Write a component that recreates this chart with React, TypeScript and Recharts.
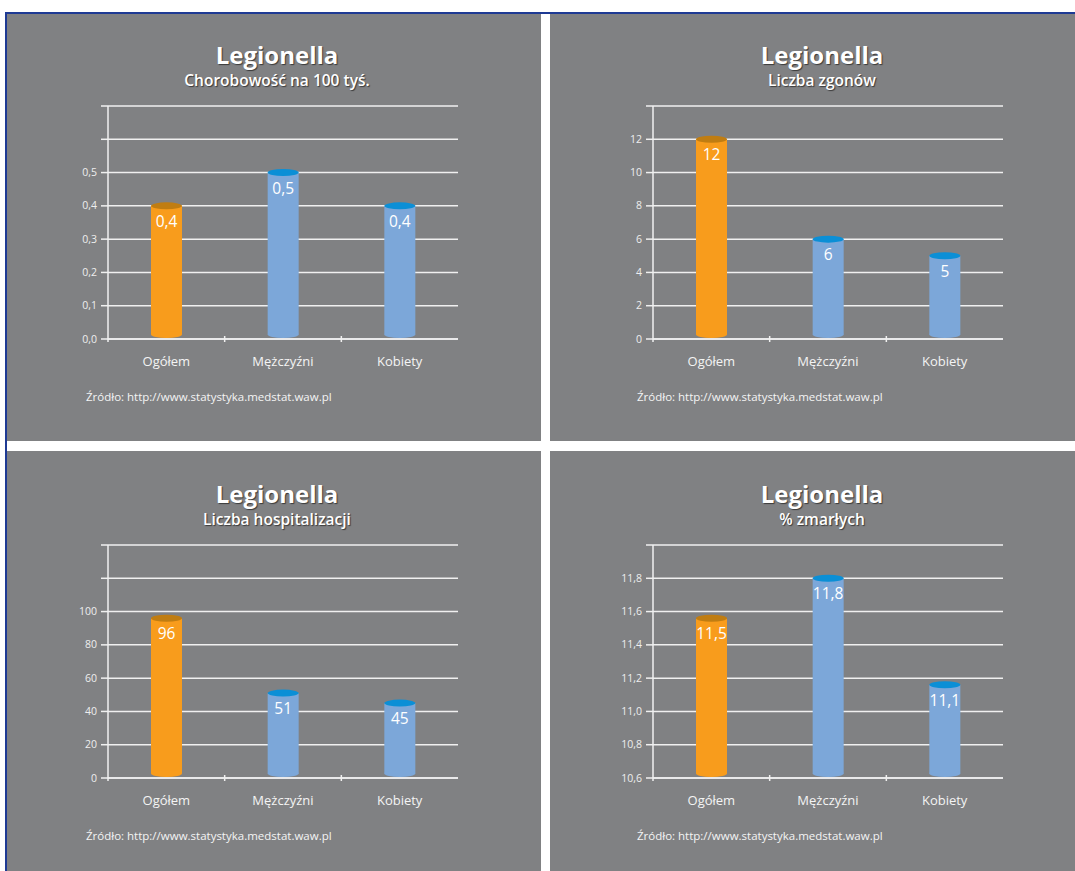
import { BarChart, Bar, XAxis, YAxis, CartesianGrid } from 'recharts';

// kategorie wspólne dla wszystkich wykresów
const categories = ['Ogółem', 'Mężczyźni', 'Kobiety'];

// Chorobowość na 100 tyś.
const incidenceValues = [0.4, 0.5, 0.4];
const incidenceLabels = ['0,4', '0,5', '0,4'];
const incidenceTicks = [0, 0.1, 0.2, 0.3, 0.4, 0.5, 0.6, 0.7];
const incidenceTickLabels = ['0,0', '0,1', '0,2', '0,3', '0,4', '0,5', '', ''];

// Liczba zgonów
const deathValues = [12, 6, 5];
const deathLabels = ['12', '6', '5'];
const deathTicks = [0, 2, 4, 6, 8, 10, 12, 14];
const deathTickLabels = ['0', '2', '4', '6', '8', '10', '12', ''];

// Liczba hospitalizacji
const hospitalValues = [96, 51, 45];
const hospitalLabels = ['96', '51', '45'];
const hospitalTicks = [0, 20, 40, 60, 80, 100, 120, 140];
const hospitalTickLabels = ['0', '20', '40', '60', '80', '100', '', ''];

// % zmarłych
const deadPctValues = [11.56, 11.8, 11.16];
const deadPctLabels = ['11,5', '11,8', '11,1'];
const deadPctTicks = [10.6, 10.8, 11.0, 11.2, 11.4, 11.6, 11.8, 12.0];
const deadPctTickLabels = ['10,6', '10,8', '11,0', '11,2', '11,4', '11,6', '11,8', ''];

const BG = '#808183';
const BORDER = '#1e3a94';
const LINE = '#f0f0f0';
const BAR_COLORS = ['#f89c1c', '#7ca7d9', '#7ca7d9'];
const CAP_COLORS = ['#c07d12', '#0b8fd6', '#0b8fd6'];
const FONT = '"Open Sans", "DejaVu Sans", sans-serif';

const CHART_W = 534;
const CHART_H = 380;
const PLOT_LEFT = 101;
const PLOT_W = 350;
const PLOT_TOP = 92;
const PLOT_BOTTOM = 325;
const Y_AXIS_W = 60;
const X_AXIS_H = 40;
const BAND = PLOT_W / categories.length;

function Cylinder(props: any) {
  const { x, y, width, height, index, payload } = props;
  const rx = width / 2;
  const ry = 3.5;
  const cx = x + rx;
  const bottom = y + height - 4.5;
  return (
    <g>
      <rect x={x} y={y} width={width} height={Math.max(0, bottom - y)} fill={BAR_COLORS[index]} />
      <ellipse cx={cx} cy={bottom} rx={rx} ry={ry} fill={BAR_COLORS[index]} />
      <ellipse cx={cx} cy={y} rx={rx} ry={ry} fill={CAP_COLORS[index]} />
      <text x={cx} y={y + 21} textAnchor="middle" fill="#ffffff" fontSize={15.5} fontFamily={FONT}>
        {payload.label}
      </text>
    </g>
  );
}

function XTick(props: any) {
  const { x, payload, index } = props;
  return (
    <g>
      <text x={x} y={PLOT_BOTTOM + 27} textAnchor="middle" fill="#f4f4f4" fontSize={13} fontFamily={FONT}>
        {payload.value}
      </text>
      {index < categories.length - 1 && (
        <line x1={x + BAND / 2} x2={x + BAND / 2} y1={PLOT_BOTTOM - 3} y2={PLOT_BOTTOM + 3} stroke={LINE} strokeWidth={1.5} />
      )}
      {index === 0 && (
        <line x1={x - BAND / 2} x2={x - BAND / 2} y1={PLOT_BOTTOM} y2={PLOT_BOTTOM + 3} stroke={LINE} strokeWidth={1.5} />
      )}
    </g>
  );
}

interface PanelProps {
  left: number;
  top: number;
  width: number;
  height: number;
  dx: number;
  dy: number;
  sourceX: number;
  subtitle: string;
  values: number[];
  labels: string[];
  ticks: number[];
  tickLabels: string[];
}

function Panel({ left, top, width, height, dx, dy, sourceX, subtitle, values, labels, ticks, tickLabels }: PanelProps) {
  const data = categories.map((name, i) => ({ name, value: values[i], label: labels[i] }));
  const shadow = '1px 1px 1px rgba(40,40,40,0.8)';
  return (
    <div style={{ position: 'absolute', left, top, width, height, background: BG, overflow: 'hidden', fontFamily: FONT }}>
      <div
        style={{
          position: 'absolute', left: dx, top: dy + 26, width: 540, textAlign: 'center',
          fontSize: 24, fontWeight: 700, lineHeight: '30px', color: '#fff', textShadow: shadow,
        }}
      >
        Legionella
      </div>
      <div
        style={{
          position: 'absolute', left: dx, top: dy + 56, width: 540, textAlign: 'center',
          fontSize: 15.5, fontWeight: 600, lineHeight: '20px', color: '#fff', textShadow: shadow,
        }}
      >
        {subtitle}
      </div>
      <div style={{ position: 'absolute', left: dx, top: dy }}>
        <BarChart
          width={CHART_W}
          height={CHART_H}
          data={data}
          margin={{
            top: PLOT_TOP,
            left: PLOT_LEFT - Y_AXIS_W,
            right: CHART_W - PLOT_LEFT - PLOT_W,
            bottom: CHART_H - PLOT_BOTTOM - X_AXIS_H,
          }}
        >
          <CartesianGrid horizontal vertical={false} stroke={LINE} strokeWidth={1.5} />
          <XAxis
            dataKey="name"
            height={X_AXIS_H}
            axisLine={{ stroke: LINE, strokeWidth: 1.5 }}
            tickLine={false}
            tick={<XTick />}
            interval={0}
          />
          <YAxis
            width={Y_AXIS_W}
            type="number"
            domain={[ticks[0], ticks[ticks.length - 1]]}
            ticks={ticks}
            interval={0}
            axisLine={{ stroke: LINE, strokeWidth: 1.5 }}
            tickLine={{ stroke: LINE, strokeWidth: 1.5 }}
            tickSize={7}
            tick={(p: any) => (
              <text x={p.x - 2} y={p.y + 3.5} textAnchor="end" fill="#eeeeee" fontSize={10.5} fontFamily={FONT}>
                {tickLabels[p.index]}
              </text>
            )}
          />
          <Bar dataKey="value" barSize={31} isAnimationActive={false} shape={<Cylinder />} />
        </BarChart>
      </div>
      <div
        style={{
          position: 'absolute', left: sourceX, top: dy + 375, fontSize: 11.5, lineHeight: '16px', color: '#f4f4f4', whiteSpace: 'nowrap',
        }}
      >
        Źródło: http://www.statystyka.medstat.waw.pl
      </div>
    </div>
  );
}

export default function App() {
  return (
    <div style={{ position: 'absolute', left: 0, top: 0, width: 1075, height: 871, background: '#fff', overflow: 'hidden' }}>
      <div style={{ position: 'absolute', left: 5, top: 12, width: 1070, height: 2, background: BORDER }} />
      <div style={{ position: 'absolute', left: 5, top: 12, width: 2, height: 859, background: BORDER }} />
      <Panel left={7} top={14} width={534} height={427} dx={0} dy={0} sourceX={79} subtitle="Chorobowość na 100 tyś."
        values={incidenceValues} labels={incidenceLabels} ticks={incidenceTicks} tickLabels={incidenceTickLabels} />
      <Panel left={550} top={14} width={525} height={427} dx={2} dy={0} sourceX={87} subtitle="Liczba zgonów"
        values={deathValues} labels={deathLabels} ticks={deathTicks} tickLabels={deathTickLabels} />
      <Panel left={7} top={451} width={534} height={420} dx={0} dy={2} sourceX={79} subtitle="Liczba hospitalizacji"
        values={hospitalValues} labels={hospitalLabels} ticks={hospitalTicks} tickLabels={hospitalTickLabels} />
      <Panel left={550} top={451} width={525} height={420} dx={2} dy={2} sourceX={87} subtitle="% zmarłych"
        values={deadPctValues} labels={deadPctLabels} ticks={deadPctTicks} tickLabels={deadPctTickLabels} />
    </div>
  );
}
